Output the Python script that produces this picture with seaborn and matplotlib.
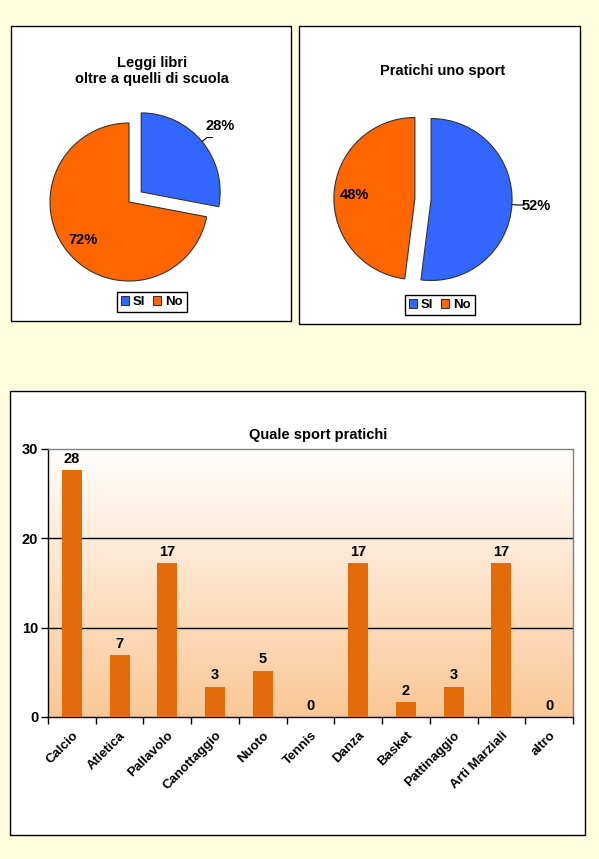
import numpy as np
import pandas as pd
import matplotlib
matplotlib.use("Agg")
import matplotlib.pyplot as plt
import seaborn as sns
from matplotlib.patches import Rectangle
from matplotlib.colors import LinearSegmentedColormap

# data
pie_labels = ["SI", "No"]
libri_vals = [28, 72]
sport_vals = [52, 48]
sports = ["Calcio", "Atletica", "Pallavolo", "Canottaggio", "Nuoto", "Tennis",
          "Danza", "Basket", "Pattinaggio", "Arti Marziali", "altro"]
sport_pct = [27.6, 6.9, 17.2, 3.4, 5.2, 0, 17.2, 1.7, 3.4, 17.2, 0]

sns.set_theme(style="white")
plt.rcParams["font.family"] = ["Liberation Sans", "DejaVu Sans"]
plt.rcParams.update({"text.color": "black", "axes.labelcolor": "black",
                     "xtick.color": "black", "ytick.color": "black"})

W, H = 599, 859
fig = plt.figure(figsize=(W / 100, H / 100), dpi=100)
fig.patch.set_facecolor("#FFFFE0")

BLUE = "#3366FF"
ORANGE = "#FF6600"


def px_box(x0, y0, x1, y1):
    fig.add_artist(Rectangle((x0 / W, 1 - y1 / H), (x1 - x0) / W, (y1 - y0) / H,
                             transform=fig.transFigure, facecolor="white",
                             edgecolor="black", linewidth=1, zorder=0))


px_box(11, 26, 291, 321)
px_box(299, 26, 580, 324)
px_box(10, 391, 585, 835)


def pie_axes(cx, cy, r):
    half = 1.3 * r
    ax = fig.add_axes([(cx - half) / W, 1 - (cy + half) / H, 2 * half / W, 2 * half / H])
    ax.axis("off")
    return ax


def draw_pie(ax, vals, explode, outside, pctd):
    wedges, _, autot = ax.pie(vals, colors=[BLUE, ORANGE], startangle=90, counterclock=False,
                              explode=explode, autopct="%1.0f%%", pctdistance=pctd,
                              wedgeprops=dict(edgecolor="#333333", linewidth=0.8))
    ax.set_xlim(-1.3, 1.3)
    ax.set_ylim(-1.3, 1.3)
    for w, t, out in zip(wedges, autot, outside):
        t.set_fontsize(10.5)
        t.set_fontweight("bold")
        t.set_color("black")
        if out:
            ang = np.deg2rad((w.theta1 + w.theta2) / 2)
            d = np.array([np.cos(ang), np.sin(ang)])
            c = np.array(w.center)
            t.set_position(c + 1.3 * d)
            p0 = c + 1.0 * d
            p1 = c + 1.08 * d
            ax.plot([p0[0], p1[0], p1[0] + 0.07], [p0[1], p1[1], p1[1]],
                    color="black", lw=0.8)
    return wedges


legend_kw = dict(loc="center", ncol=2, fancybox=False, edgecolor="black", framealpha=1,
                 handlelength=0.6, handleheight=0.6, handletextpad=0.3, columnspacing=0.6,
                 borderpad=0.3, prop=dict(weight="bold", size=9.5))

ax1 = pie_axes(129, 202, 79)
w1 = draw_pie(ax1, libri_vals, [0.2, 0], [True, False], 0.76)
fig.text(152 / W, 1 - 71 / H, "Leggi libri\noltre a quelli di scuola", ha="center", va="center",
         fontsize=10.5, fontweight="bold", linespacing=1.15)
fig.legend(w1, pie_labels, bbox_to_anchor=(152 / W, 1 - 302 / H), **legend_kw)

ax2 = pie_axes(423, 199, 81)
w2 = draw_pie(ax2, sport_vals, [0.1, 0.1], [True, False], 0.75)
fig.text(443 / W, 1 - 71 / H, "Pratichi uno sport", ha="center", va="center",
         fontsize=10.5, fontweight="bold")
fig.legend(w2, pie_labels, bbox_to_anchor=(440 / W, 1 - 305 / H), **legend_kw)

# bar chart
ax3 = fig.add_axes([48 / W, 1 - 717 / H, 525 / W, 268 / H])
df = pd.DataFrame({"sport": sports, "pct": sport_pct})
grad = LinearSegmentedColormap.from_list("g", ["#FBC796", "#FFFEFC"])
ax3.imshow(np.linspace(0, 1, 256).reshape(-1, 1), cmap=grad, origin="lower",
           extent=[0, 1, 0, 1], transform=ax3.transAxes, aspect="auto", zorder=0)
sns.barplot(data=df, x="sport", y="pct", color="#E36C0A", saturation=1, width=0.42, ax=ax3,
            zorder=3, linewidth=0, edgecolor="none")
ax3.set_xlim(-0.5, len(sports) - 0.5)
ax3.set_ylim(0, 30)
ax3.set_yticks([0, 10, 20, 30])
for yv in [10, 20]:
    ax3.axhline(yv, color="black", lw=1, zorder=1)
ax3.bar_label(ax3.containers[0], fmt="%.0f", padding=3, fontsize=10.5, fontweight="bold")
ax3.set_xlabel("")
ax3.set_ylabel("")
ax3.set_xticks(range(len(sports)))
ax3.set_xticklabels(sports, rotation=45, ha="right", rotation_mode="anchor",
                    fontsize=9.5, fontweight="bold")
ax3.set_xticks(np.arange(-0.5, len(sports)), minor=True)
ax3.tick_params(axis="x", which="major", length=0, pad=9)
ax3.tick_params(axis="x", which="minor", length=5, width=1, color="black", direction="out", bottom=True)
ax3.tick_params(axis="y", length=5, width=1, color="black", direction="out", left=True, pad=2)
for lab in ax3.get_yticklabels():
    lab.set_fontweight("bold")
    lab.set_fontsize(10.5)
for s in ["left", "bottom"]:
    ax3.spines[s].set_color("black")
    ax3.spines[s].set_linewidth(1)
for s in ["top", "right"]:
    ax3.spines[s].set_visible(True)
    ax3.spines[s].set_color("#808080")
    ax3.spines[s].set_linewidth(1)
fig.text(318 / W, 1 - 435 / H, "Quale sport pratichi", ha="center", va="center",
         fontsize=10.5, fontweight="bold")

fig.savefig("out.png", dpi=100, facecolor=fig.get_facecolor())
